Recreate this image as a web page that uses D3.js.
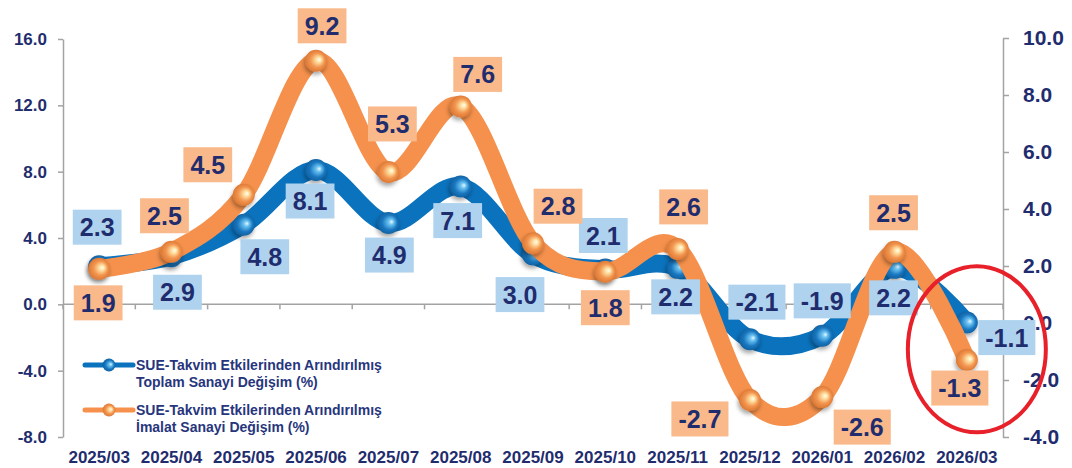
<!DOCTYPE html>
<html>
<head>
<meta charset="utf-8">
<script src="https://cdn.jsdelivr.net/npm/d3@7"></script>
<style>
  html, body { margin: 0; padding: 0; background: #fff; }
  svg { display: block; font-family: "Liberation Sans", Arial, sans-serif; }
</style>
</head>
<body>
<div id="vis1"></div>
<script>
// data
const months = ['2025/03', '2025/04', '2025/05', '2025/06', '2025/07', '2025/08', '2025/09',
  '2025/10', '2025/11', '2025/12', '2026/01', '2026/02', '2026/03'];
const totalIndustry = [2.3, 2.9, 4.8, 8.1, 4.9, 7.1, 3.0, 2.1, 2.2, -2.1, -1.9, 2.2, -1.1];   // left axis
const manufacturing = [1.9, 2.5, 4.5, 9.2, 5.3, 7.6, 2.8, 1.8, 2.6, -2.7, -2.6, 2.5, -1.3];   // right axis
const leftTicks = [-8, -4, 0, 4, 8, 12, 16];
const rightTicks = [-4, -2, 0, 2, 4, 6, 8, 10];
const seriesNames = [
  ['SUE-Takvim Etkilerinden Arındırılmış', 'Toplam Sanayi Değişim (%)'],
  ['SUE-Takvim Etkilerinden Arındırılmış', 'İmalat Sanayi Değişim (%)']
];

// where each data label sits relative to its marker (px)
const totalLabelShift = [[-2, -39], [6, 36], [21, 32], [-6, 31], [1, 32], [-3, 34], [-13, 40],
  [-2, -34], [-2, 29], [7, -37], [0, -35], [-1, 30], [40, 15]];
const mfgLabelShift = [[-1, 34], [-7, -36], [-36, -30], [6, -35], [4, -48], [17, -32], [25, -37],
  [0, 36], [6, -42], [-50, 19], [40, 30], [-1, -39], [-7, 28]];

const W = 1072, H = 468;
const plot = { left: 63, right: 1003, top: 38, bottom: 437 };
const navy = '#1f2d6e';
const blue = '#0b72bd', orange = '#f5914c';

const svg = d3.select('#vis1')
  .append('svg')
  .attr('width', W)
  .attr('height', H)
  .attr('viewBox', [0, 0, W, H].join(' '));

const defs = svg.append('defs');

// shiny marker gradients
function ball(id, stops) {
  const g = defs.append('radialGradient').attr('id', id)
    .attr('cx', '50%').attr('cy', '50%').attr('r', '55%')
    .attr('fx', '66%').attr('fy', '44%');
  stops.forEach(s => g.append('stop').attr('offset', s[0]).attr('stop-color', s[1]));
}
ball('blueBall', [['0%', '#eaf8ff'], ['22%', '#6cc3f2'], ['62%', '#1a78c0'], ['100%', '#0d5a98']]);
ball('orangeBall', [['0%', '#fffff2'], ['20%', '#ffe3a6'], ['58%', '#f2954f'], ['100%', '#d7722f']]);

const shadow = defs.append('filter').attr('id', 'shadow')
  .attr('x', '-50%').attr('y', '-50%').attr('width', '200%').attr('height', '200%');
shadow.append('feDropShadow').attr('dx', -1).attr('dy', 3).attr('stdDeviation', 2)
  .attr('flood-color', '#000').attr('flood-opacity', 0.35);

// scales
let x = d3.scaleBand()
  .domain(months)
  .range([plot.left, plot.right]);
const cx = m => x(m) + x.bandwidth() / 2;

let yL = d3.scaleLinear().domain([-8, 16]).range([plot.bottom, plot.top + 1]);
let yR = d3.scaleLinear().domain([-4, 10]).range([plot.bottom, plot.top]);

// left axis
svg.append('g')
  .attr('transform', `translate(${plot.left},0)`)
  .call(d3.axisLeft(yL).tickValues(leftTicks).tickSize(5).tickPadding(11)
    .tickFormat(d => d.toFixed(1)).tickSizeOuter(0))
  .call(g => g.selectAll('text').attr('font-size', 17).attr('font-weight', 'bold')
    .attr('fill', navy).attr('font-family', '"Liberation Sans", Arial, sans-serif'));

// right axis
svg.append('g')
  .attr('transform', `translate(${plot.right},0)`)
  .call(d3.axisRight(yR).tickValues(rightTicks).tickSize(6).tickPadding(14)
    .tickFormat(d => d.toFixed(1)).tickSizeOuter(0))
  .call(g => g.selectAll('text').attr('font-size', 21).attr('font-weight', 'bold')
    .attr('fill', navy).attr('font-family', '"Liberation Sans", Arial, sans-serif'));

svg.selectAll('.domain, .tick line').attr('stroke', '#a3a3a3').attr('stroke-width', 1.5);

// category axis line through left-axis zero, with ticks between months
const zeroY = yL(0);
const xAxis = svg.append('g');
xAxis.append('line')
  .attr('x1', plot.left).attr('x2', plot.right)
  .attr('y1', zeroY).attr('y2', zeroY)
  .attr('stroke', '#a3a3a3').attr('stroke-width', 1.5);
xAxis.selectAll('.xt')
  .data(months.concat(['end']))
  .join('line')
  .attr('class', 'xt')
  .attr('x1', d => d === 'end' ? plot.right : x(d))
  .attr('x2', d => d === 'end' ? plot.right : x(d))
  .attr('y1', zeroY).attr('y2', zeroY + 5)
  .attr('stroke', '#a3a3a3').attr('stroke-width', 1.5);

// month labels at the bottom
svg.append('g')
  .attr('transform', `translate(0,${plot.bottom})`)
  .call(d3.axisBottom(x).tickSize(0).tickPadding(14))
  .call(g => g.select('.domain').remove())
  .call(g => g.selectAll('text').attr('font-size', 17).attr('font-weight', 'bold')
    .attr('fill', navy).attr('font-family', '"Liberation Sans", Arial, sans-serif'));

// smooth lines like excel's "smoothed line"
const smooth = d3.curveCatmullRom.alpha(0);
const totalLine = d3.line().x((d, i) => cx(months[i])).y(d => yL(d)).curve(smooth);
const mfgLine = d3.line().x((d, i) => cx(months[i])).y(d => yR(d)).curve(smooth);

svg.append('path')
  .attr('d', totalLine(totalIndustry))
  .attr('fill', 'none').attr('stroke', blue).attr('stroke-width', 18)
  .attr('stroke-linecap', 'round').attr('stroke-linejoin', 'round');

svg.append('g').selectAll('circle')
  .data(totalIndustry)
  .join('circle')
  .attr('cx', (d, i) => cx(months[i]))
  .attr('cy', d => yL(d))
  .attr('r', 11)
  .attr('fill', 'url(#blueBall)')
  .attr('filter', 'url(#shadow)');

svg.append('path')
  .attr('d', mfgLine(manufacturing))
  .attr('fill', 'none').attr('stroke', orange).attr('stroke-width', 18)
  .attr('stroke-linecap', 'round').attr('stroke-linejoin', 'round');

svg.append('g').selectAll('circle')
  .data(manufacturing)
  .join('circle')
  .attr('cx', (d, i) => cx(months[i]))
  .attr('cy', d => yR(d))
  .attr('r', 11)
  .attr('fill', 'url(#orangeBall)')
  .attr('filter', 'url(#shadow)');

// data labels in coloured boxes
function dataLabels(values, yScale, shifts, boxColor) {
  const lab = svg.append('g').selectAll('g')
    .data(values)
    .join('g')
    .attr('transform', (d, i) =>
      `translate(${cx(months[i]) + shifts[i][0]},${yScale(d) + shifts[i][1]})`);
  lab.append('rect').attr('fill', boxColor);
  lab.append('text')
    .attr('text-anchor', 'middle')
    .attr('dy', '0.36em')
    .attr('font-size', 25)
    .attr('font-weight', 'bold')
    .attr('fill', navy)
    .text(d => d.toFixed(1));
  lab.each(function() {
    const w = d3.select(this).select('text').node().getComputedTextLength();
    d3.select(this).select('rect')
      .attr('x', -w / 2 - 7).attr('y', -17.5)
      .attr('width', w + 14).attr('height', 35);
  });
}
dataLabels(totalIndustry, yL, totalLabelShift, '#afd3ee');
dataLabels(manufacturing, yR, mfgLabelShift, '#f9b98a');

// red highlight ring round the latest month
const last = months.length - 1;
svg.append('ellipse')
  .attr('cx', cx(months[last]) + 10)
  .attr('cy', (yL(totalIndustry[last]) + yR(manufacturing[last])) / 2 + 8)
  .attr('rx', 69).attr('ry', 83)
  .attr('fill', 'none')
  .attr('stroke', '#e8202a')
  .attr('stroke-width', 4);

// legend
const legendColors = [[blue, 'url(#blueBall)'], [orange, 'url(#orangeBall)']];
const legend = svg.append('g')
  .attr('transform', 'translate(85,365)')
  .selectAll('g')
  .data(seriesNames)
  .join('g')
  .attr('transform', (d, i) => `translate(0,${i * 45})`);

legend.append('line')
  .attr('x1', 0).attr('x2', 48)
  .attr('stroke', (d, i) => legendColors[i][0])
  .attr('stroke-width', 5)
  .attr('stroke-linecap', 'round');
legend.append('circle')
  .attr('cx', 24).attr('r', 6.5)
  .attr('fill', (d, i) => legendColors[i][1]);
legend.append('text')
  .attr('x', 51)
  .attr('y', 5)
  .attr('font-size', 14)
  .attr('font-weight', 'bold')
  .attr('fill', '#27367c')
  .selectAll('tspan')
  .data(d => d)
  .join('tspan')
  .attr('x', 51)
  .attr('dy', (d, i) => i === 0 ? 0 : 17)
  .text(d => d);
</script>
</body>
</html>
